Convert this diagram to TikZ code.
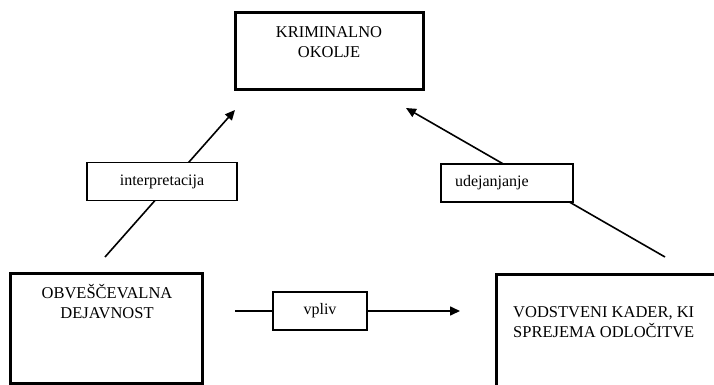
\documentclass[tikz,border=0pt]{standalone}
\usepackage{fontspec}
\setmainfont{Liberation Serif}
\usetikzlibrary{arrows.meta, positioning}

\begin{document}
\begin{tikzpicture}[
    x=1pt, y=-1pt,
    bigbox/.style={rectangle, draw, line width=3pt, inner sep=0pt},
    lblbox/.style={rectangle, draw, line width=1.8pt, fill=white, minimum height=38pt, font=\fontsize{16}{20}\selectfont},
    boxtxt/.style={align=center, inner sep=0pt, font=\fontsize{16.5}{20}\selectfont},
    arrow/.style={-{Triangle[length=10pt, width=9pt]}, line width=1.6pt},
    link/.style={line width=1.6pt}
]
    \useasboundingbox (0,0) rectangle (714,385);

    % Criminal environment
    \node[bigbox, minimum width=188pt, minimum height=77pt] (okolje) at (329,51.5) {};
    \node[boxtxt] (okoljeTxt) at (329,42.5) {KRIMINALNO\\OKOLJE};

    % Intelligence activity
    \node[bigbox, minimum width=192pt, minimum height=110pt] (dejavnost) at (106,328) {};
    \node[boxtxt] (dejavnostTxt) at (107,302) {OBVEŠČEVALNA\\DEJAVNOST};

    % Decision makers
    \node[bigbox, minimum width=240pt, minimum height=114pt] (kader) at (616,331) {};
    \node[boxtxt, align=left, anchor=west] (kaderTxt) at (513,322.5) {VODSTVENI KADER, KI\\SPREJEMA ODLOČITVE};

    % Interpretation
    \coordinate (interpFoot) at (105,257);
    \coordinate (interpTip) at (235,110);
    \draw[arrow] (interpFoot) -- (interpTip);
    \node[lblbox, minimum width=150pt] (interp) at (162,181.5) {interpretacija};

    % Implementation
    \coordinate (udejFoot) at (665,257);
    \coordinate (udejTip) at (406,108);
    \draw[arrow] (udejFoot) -- (udejTip);
    \node[lblbox, minimum width=132pt, text width=104pt, inner xsep=14pt, align=left] (udej) at (507,183) {udejanjanje};

    % Influence
    \node[lblbox, minimum width=94pt] (vpliv) at (320,311) {vpliv};
    \coordinate (vplivStart) at (235,311);
    \coordinate (vplivTip) at (460,311);
    \draw[link] (vplivStart) -- (vpliv.west);
    \draw[arrow] (vpliv.east) -- (vplivTip);
\end{tikzpicture}
\end{document}
